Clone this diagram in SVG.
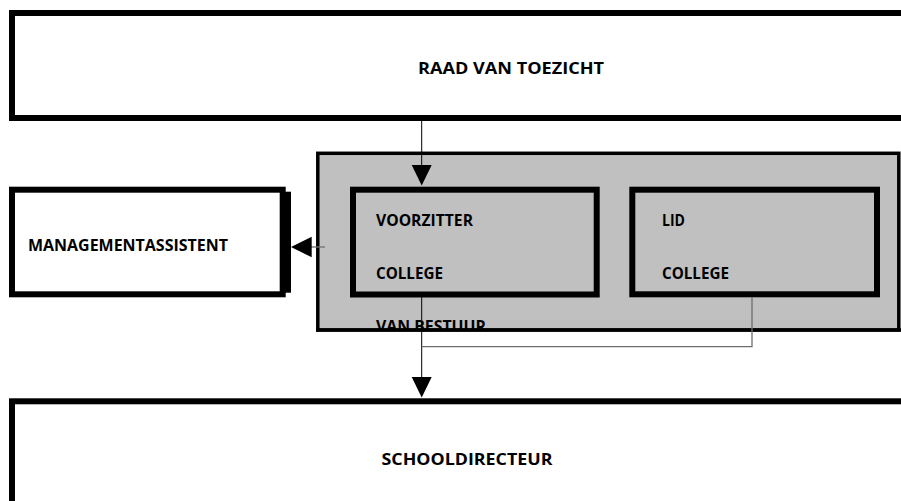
<svg xmlns="http://www.w3.org/2000/svg" width="901" height="501" viewBox="0 0 901 501">
  <defs>
    <style>
      .box { fill: #ffffff; stroke: #000000; stroke-width: 6; }
      .inner { fill: #c0c0c0; stroke: #000000; stroke-width: 6; }
      .panel { fill: #c0c0c0; stroke: #000000; stroke-width: 3.5; }
      .lbl { font-family: "Open Sans", "Liberation Sans", sans-serif; font-weight: bold; font-size: 16.5px; fill: #000000; }
      .conn { stroke: #000000; stroke-width: 1; fill: none; }
      .conn-grey { stroke: #6e6e6e; stroke-width: 1.3; fill: none; }
      .head { fill: #000000; }
    </style>
    <clipPath id="panelClip">
      <rect x="319" y="155" width="580" height="174.5"/>
    </clipPath>
  </defs>

  <rect x="0" y="0" width="901" height="501" fill="#ffffff"/>

  <g id="raad-van-toezicht">
    <rect class="box" x="12" y="13" width="900" height="105"/>
    <text class="lbl" x="418" y="74" textLength="186" lengthAdjust="spacingAndGlyphs">RAAD VAN TOEZICHT</text>
  </g>

  <g id="managementassistent">
    <rect class="box" x="12" y="189.7" width="270.7" height="104.6"/>
    <rect x="284" y="191.7" width="7" height="101" fill="#000000"/>
    <text class="lbl" x="28" y="251" textLength="200" lengthAdjust="spacingAndGlyphs">MANAGEMENTASSISTENT</text>
  </g>

  <g id="college-van-bestuur">
    <rect class="panel" x="317.8" y="153.3" width="581" height="176.7"/>
    <text class="lbl" x="376" y="332" textLength="110" lengthAdjust="spacingAndGlyphs" clip-path="url(#panelClip)">VAN BESTUUR</text>
    <rect x="316" y="328.3" width="585" height="3.4" fill="#000000"/>
  </g>

  <g id="voorzitter-college">
    <rect class="inner" x="353" y="189.7" width="243.7" height="104.8"/>
    <text class="lbl" x="376" y="225.5" textLength="97" lengthAdjust="spacingAndGlyphs">VOORZITTER</text>
    <text class="lbl" x="376" y="279" textLength="67" lengthAdjust="spacingAndGlyphs">COLLEGE</text>
  </g>

  <g id="lid-college">
    <rect class="inner" x="632.3" y="189.7" width="244.7" height="104.6"/>
    <text class="lbl" x="662" y="225.5" textLength="23" lengthAdjust="spacingAndGlyphs">LID</text>
    <text class="lbl" x="662" y="278.5" textLength="67" lengthAdjust="spacingAndGlyphs">COLLEGE</text>
  </g>

  <g id="schooldirecteur">
    <rect class="box" x="12" y="401.3" width="900" height="120"/>
    <text class="lbl" x="381.5" y="465" textLength="171" lengthAdjust="spacingAndGlyphs">SCHOOLDIRECTEUR</text>
  </g>

  <g id="connectors">
    <line class="conn" x1="421.7" y1="121" x2="421.7" y2="166"/>
    <polygon class="head" points="411.7,165 431.7,165 421.7,185.5"/>

    <line class="conn-grey" x1="325" y1="247" x2="310" y2="247"/>
    <polygon class="head" points="311.7,236.7 311.7,257.3 291,247"/>

    <line class="conn" x1="421.7" y1="297" x2="421.7" y2="378"/>
    <polygon class="head" points="411.7,377 431.7,377 421.7,397.5"/>

    <polyline class="conn-grey" points="752,297 752,346.7 421.7,346.7"/>
  </g>
</svg>
